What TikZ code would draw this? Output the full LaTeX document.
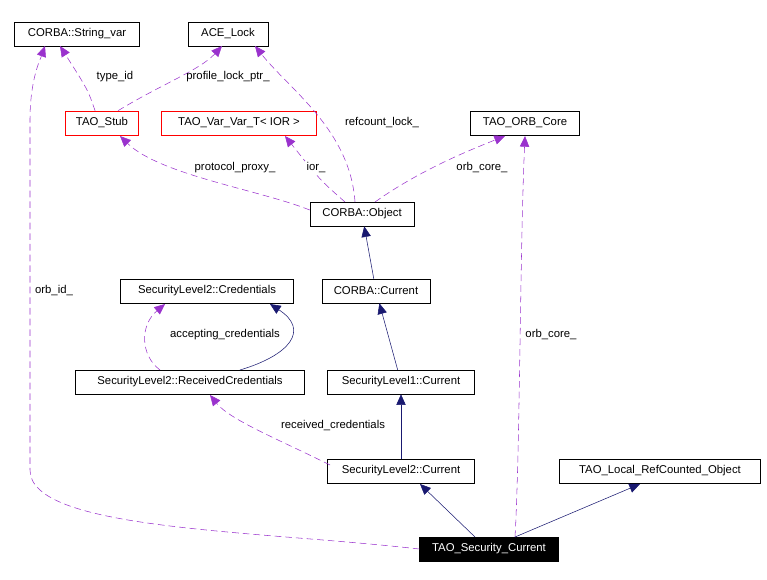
\documentclass[tikz,border=0pt]{standalone}
\usepackage{fontspec}
\setmainfont{Liberation Sans}
\usetikzlibrary{arrows.meta}
\definecolor{purp}{HTML}{9A32CD}
\definecolor{navy}{HTML}{191970}
\begin{document}
\begin{tikzpicture}[x=0.75pt,y=-0.75pt,
 box/.style={draw,fill=white,inner sep=0pt,minimum height=18pt,font=\fontsize{8.5}{10}\selectfont},
 red/.style={box,draw=red},
 use/.style={purp,dash pattern=on 5pt off 3pt,-{Triangle[length=8pt,width=7pt]}},
 inh/.style={navy,-{Triangle[length=8pt,width=7pt]}},
 lab/.style={font=\fontsize{8.5}{10}\selectfont,inner sep=1pt}]
\useasboundingbox (0,0) rectangle (767,579);
\node[box,minimum width=94pt] (sv) at (77,34) {CORBA::String\_var};
\node[box,minimum width=60pt] (al) at (228,34) {ACE\_Lock};
\node[red,minimum width=55pt] (st) at (102,123) {TAO\_Stub};
\node[red,minimum width=116pt] (vv) at (239,123) {TAO\_Var\_Var\_T< IOR >};
\node[box,minimum width=82pt] (oc) at (525,123) {TAO\_ORB\_Core};
\node[box,minimum width=78pt] (ob) at (362,214) {CORBA::Object};
\node[box,minimum width=130pt] (cr) at (207,291) {SecurityLevel2::Credentials};
\node[box,minimum width=81pt] (cc) at (376,291) {CORBA::Current};
\node[box,minimum width=172pt] (rc) at (190,382) {SecurityLevel2::ReceivedCredentials};
\node[box,minimum width=110pt] (s1) at (401,382) {SecurityLevel1::Current};
\node[box,minimum width=110pt] (s2) at (401,471) {SecurityLevel2::Current};
\node[box,minimum width=151pt] (lr) at (660,471) {TAO\_Local\_RefCounted\_Object};
\node[box,minimum width=104pt,fill=black,text=white] (sc) at (489,549) {TAO\_Security\_Current};

\draw[use] (st.north west)++(30,0) .. controls (88,90) .. (60,46);
\node[lab] at (115,77) {type\_id};
\draw[use] (st.north)++(16,0) .. controls (160,85) and (200,70) .. (222,46);
\node[lab] at (228,77) {profile\_lock\_ptr\_};
\draw[use] (ob.west)++(0,-4) .. controls (260,190) and (160,175) .. (120,136);
\node[lab,fill=white] at (235,168) {protocol\_proxy\_};
\draw[use] (345,202) .. controls (320,180) .. (285,136);
\node[lab,fill=white] at (316,168) {ior\_};
\draw[use] (355,202) .. controls (350,130) and (290,90) .. (255,46);
\node[lab] at (382,123) {refcount\_lock\_};
\draw[use] (375,202) .. controls (420,170) and (470,150) .. (505,136);
\node[lab,fill=white] at (482,168) {orb\_core\_};
\draw[use] (515,537) .. controls (520,450) and (520,250) .. (525,136);
\node[lab,fill=white] at (551,335) {orb\_core\_};
\draw[use] (sc.west) .. controls (250,530) and (30,530) .. (30,470) -- (30,120) .. controls (30,80) and (40,60) .. (45,46);
\node[lab,fill=white] at (54,291) {orb\_id\_};
\draw[use] (330,465) .. controls (280,440) and (230,420) .. (210,395);
\node[lab,fill=white] at (333,426) {received\_credentials};
\draw[use] (160,370) .. controls (140,355) and (140,325) .. (165,304);
\node[lab] at (225,335) {accepting\_credentials};
\draw[inh] (240,370) .. controls (290,355) and (310,330) .. (270,304);
\draw[inh] (cc) -- (ob);
\draw[inh] (s1) -- (cc);
\draw[inh] (s2) -- (s1);
\draw[inh] (475,537) -- (420,484);
\draw[inh] (515,537) -- (640,484);
\end{tikzpicture}
\end{document}
